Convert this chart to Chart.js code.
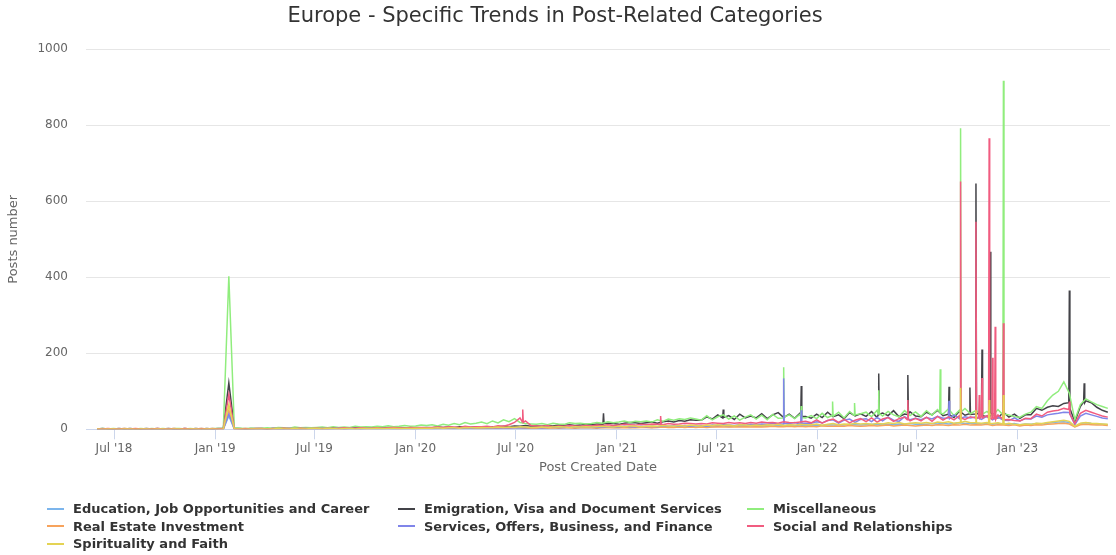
<!DOCTYPE html>
<html>
<head>
<meta charset="utf-8">
<script src="https://cdn.jsdelivr.net/npm/chart.js@4.4.1/dist/chart.umd.min.js"></script>
<style>
  body { margin: 0; background: #fff; }
  #wrap { position: relative; width: 1116px; height: 555px; }
  #legend {
    position: absolute; left: 47px; top: 500px;
    display: grid; grid-template-columns: 351px 349px 300px;
    font: bold 13px "DejaVu Sans", sans-serif; color: #333;
  }
  .item { display: flex; align-items: center; height: 17.5px; white-space: nowrap; }
  .sym { width: 17px; height: 2px; margin-right: 9px; }
</style>
</head>
<body>
<div id="wrap">
  <canvas id="chart" width="1116" height="555"></canvas>
  <div id="legend"></div>
</div>
<script>
// Séries (uma amostra a cada 10 dias + picos diários)
const seriesNames = [
  'Education, Job Opportunities and Career',
  'Emigration, Visa and Document Services',
  'Miscellaneous',
  'Real Estate Investment',
  'Services, Offers, Business, and Finance',
  'Social and Relationships',
  'Spirituality and Faith'
];
const seriesColors = ['#7cb5ec', '#434348', '#90ed7d', '#f7a35c', '#8085e9', '#f15c80', '#e4d354'];

const gridStartDate = '2018-05-31';
const gridStepDays = 10;

const tickDates = ['2018-07-01', '2019-01-01', '2019-07-01', '2020-01-01', '2020-07-01',
  '2021-01-01', '2021-07-01', '2022-01-01', '2022-07-01', '2023-01-01'];
const tickLabels = ["Jul '18", "Jan '19", "Jul '19", "Jan '20", "Jul '20",
  "Jan '21", "Jul '21", "Jan '22", "Jul '22", "Jan '23"];

const educationValues = [
  1,1,0,1,1,0,1,1,0,1, 1,0,1,1,0,1,1,0,1,1, 0,1,1,1,35,1,1,1,0,1, 1,1,2,1,1,1,2,1,1,2,
  1,2,1,1,2,2,1,2,1,2, 2,1,2,2,1,2,2,3,2,2, 2,3,2,3,3,2,3,3,4,3, 3,4,3,4,3,4,5,4,3,4,
  4,3,4,5,4,4,5,4,5,4, 5,4,5,6,5,5,6,5,6,6, 6,5,7,6,7,6,7,8,7,6, 7,8,7,8,9,7,8,9,8,9,
  9,8,10,9,10,9,11,10,9,11, 10,11,10,12,11,12,11,13,12,11, 12,13,12,14,13,12,14,13,15,13,
  14,13,15,14,16,14,15,17,15,16, 15,14,16,13,15,14,13,15,12,14, 13,15,14,16,18,19,20,18,7,15,
  17,15,14,13,12
];
const emigrationValues = [
  1,2,1,1,2,1,2,1,1,2, 1,2,1,2,1,1,2,1,2,1, 2,1,2,3,122,3,2,1,2,2, 2,1,2,3,2,2,3,2,2,3,
  3,2,3,4,3,2,3,4,3,3, 4,3,4,5,4,5,4,3,5,4, 5,4,6,5,6,4,7,6,5,6, 6,5,7,6,8,7,9,8,10,8,
  9,8,10,9,11,10,12,10,11,13, 12,14,13,16,15,13,16,18,17,15, 17,19,16,20,22,19,23,21,25,24,
  24,33,27,38,29,36,26,40,30,35, 30,41,28,38,44,31,40,29,43,34, 29,40,31,45,33,38,28,44,35,41,
  34,47,31,43,36,49,33,40,46,35, 33,45,38,50,36,44,31,48,37,42, 40,46,33,42,30,45,32,40,29,38,
  38,55,50,58,62,60,68,70,20,60, 75,70,58,50,45
];
const miscValues = [
  1,2,1,2,1,2,1,1,2,1, 2,1,2,1,2,2,1,2,1,2, 1,2,2,3,403,4,3,2,3,2, 3,4,3,5,4,3,6,4,5,4,
  5,6,4,7,5,6,5,8,6,7, 6,8,7,9,7,8,10,8,9,11, 10,12,9,13,11,15,12,18,14,16, 19,15,22,17,25,20,28,18,15,14,
  13,15,12,16,14,13,17,15,16,14, 15,18,16,20,17,19,22,18,21,20, 22,19,25,21,27,24,28,26,30,27,
  24,36,25,33,38,27,35,24,32,38, 27,37,25,39,29,26,38,28,40,30, 36,28,42,31,38,45,30,47,34,41,
  45,33,50,35,47,38,33,49,36,46, 34,49,37,52,40,54,36,50,55,41, 50,38,47,35,52,40,38,33,32,40,
  45,60,55,75,90,100,125,95,25,65, 80,72,65,60,55
];
const realEstateValues = [
  1,0,1,0,1,1,0,1,0,1, 1,0,0,1,1,0,1,0,1,1, 0,1,1,0,50,1,0,1,1,0, 1,1,0,1,2,1,1,2,1,1,
  2,1,1,2,1,1,2,1,2,1, 1,2,1,2,2,1,2,2,1,2, 2,2,3,2,2,3,2,3,3,2, 3,2,3,3,4,3,5,4,3,3,
  3,4,3,4,3,4,4,3,4,4, 4,3,5,4,4,5,4,5,4,5, 5,4,5,6,5,5,6,5,6,5, 6,5,6,7,6,6,7,6,7,6,
  7,6,7,8,7,7,8,7,8,7, 8,7,9,8,8,9,8,10,9,8, 9,10,9,10,11,9,10,11,10,9,
  10,11,10,12,11,10,12,11,13,11, 12,11,13,10,12,11,10,12,9,11, 10,12,11,13,14,15,16,14,6,12,
  13,12,11,11,10
];
const servicesValues = [
  0,1,1,0,1,1,0,1,1,0, 1,0,1,1,0,1,1,0,1,1, 1,0,1,1,40,1,1,0,1,1, 1,1,2,1,1,2,1,1,2,1,
  1,2,1,2,2,1,2,2,1,2, 2,2,3,2,2,3,2,3,2,3, 3,2,3,3,4,3,3,4,3,4, 4,3,4,5,4,5,4,5,4,5,
  5,4,5,6,5,5,6,5,6,6, 6,5,7,6,7,6,8,7,6,8, 7,8,7,9,8,9,8,10,9,10, 10,9,11,10,12,11,10,12,11,13,
  12,14,13,15,14,16,15,18,14,16, 16,20,17,23,25,16,24,27,18,26, 28,20,31,22,32,24,21,33,25,29,
  25,31,27,34,29,33,38,28,33,30, 33,26,35,25,32,24,23,30,22,28, 27,35,32,38,40,42,45,44,12,35,
  42,38,34,30,28
];
const socialValues = [
  1,1,2,1,1,2,1,2,1,1, 1,2,1,1,2,1,2,1,1,2, 1,2,1,2,92,2,1,2,1,2, 2,1,2,2,3,2,2,3,2,2,
  3,2,3,2,3,4,3,3,4,3, 3,4,3,4,5,4,3,5,4,5, 4,5,6,5,7,6,5,8,6,7, 7,8,6,9,8,12,18,30,22,10,
  9,8,10,7,9,8,10,9,8,10, 9,11,10,12,10,11,13,12,11,13, 12,14,13,12,15,13,14,16,15,14,
  15,14,17,16,15,18,16,17,15,18, 16,19,17,18,16,20,18,17,19,21, 17,25,16,23,27,18,26,17,24,28,
  20,30,19,27,31,21,28,32,22,29, 22,32,21,34,24,33,25,36,26,33, 34,25,36,27,38,28,26,23,22,29,
  28,40,35,45,48,50,55,52,15,42, 50,45,40,35,32
];
const spiritualityValues = [
  1,0,1,1,0,1,1,0,1,1, 0,1,1,0,1,1,0,1,1,0, 1,1,0,1,65,1,1,0,1,1, 1,1,1,2,1,1,2,1,1,2,
  2,1,2,2,1,2,2,1,2,2, 2,3,2,2,3,2,3,2,3,3, 3,3,4,3,4,4,3,5,4,4, 5,4,5,6,5,6,5,7,6,5,
  5,6,5,6,7,6,5,7,6,7, 6,7,8,7,6,8,7,9,8,7, 8,9,8,10,9,8,10,9,11,10, 9,11,10,12,10,11,9,12,11,10,
  11,10,12,11,13,10,12,11,13,12, 12,14,11,13,15,12,14,13,16,14, 15,13,16,14,17,15,18,14,16,17,
  16,18,15,19,17,20,16,18,21,17, 19,16,18,15,17,14,16,13,12,14, 13,16,15,18,20,22,24,21,8,16,
  18,16,15,14,13
];

// picos diários [data, valor]
const educationSpikes = [];
const emigrationSpikes = [
  ['2020-12-07', 14], ['2020-12-08', 42], ['2020-12-09', 15],
  ['2021-07-13', 30], ['2021-07-14', 52], ['2021-07-15', 31],
  ['2021-12-02', 35], ['2021-12-03', 114], ['2021-12-04', 34],
  ['2022-04-22', 38], ['2022-04-23', 147], ['2022-04-24', 40],
  ['2022-06-14', 39], ['2022-06-15', 143], ['2022-06-16', 41],
  ['2022-08-28', 40], ['2022-08-29', 112], ['2022-08-30', 38],
  ['2022-10-05', 41], ['2022-10-06', 110], ['2022-10-07', 39],
  ['2022-10-16', 40], ['2022-10-17', 647], ['2022-10-18', 42],
  ['2022-10-27', 38], ['2022-10-28', 210], ['2022-10-29', 36],
  ['2022-11-11', 39], ['2022-11-12', 467], ['2022-11-13', 37],
  ['2023-04-04', 70], ['2023-04-05', 365], ['2023-04-06', 55],
  ['2023-05-01', 72], ['2023-05-02', 121], ['2023-05-03', 70]
];
const miscSpikes = [
  ['2021-10-31', 30], ['2021-11-01', 163], ['2021-11-02', 32],
  ['2021-12-02', 33], ['2021-12-03', 61], ['2021-12-04', 31],
  ['2022-01-28', 36], ['2022-01-29', 73], ['2022-01-30', 34],
  ['2022-03-09', 37], ['2022-03-10', 69], ['2022-03-11', 38],
  ['2022-04-22', 40], ['2022-04-23', 103], ['2022-04-24', 42],
  ['2022-08-12', 45], ['2022-08-13', 158], ['2022-08-14', 43],
  ['2022-09-18', 44], ['2022-09-19', 792], ['2022-09-20', 46],
  ['2022-12-05', 38], ['2022-12-06', 917], ['2022-12-07', 40]
];
const realEstateSpikes = [];
const servicesSpikes = [
  ['2021-10-31', 14], ['2021-11-01', 134], ['2021-11-02', 15],
  ['2021-12-02', 15], ['2021-12-03', 50], ['2021-12-04', 16],
  ['2022-08-28', 30], ['2022-08-29', 75], ['2022-08-30', 28]
];
const socialSpikes = [
  ['2020-07-13', 20], ['2020-07-14', 52], ['2020-07-15', 18],
  ['2021-03-21', 13], ['2021-03-22', 35], ['2021-03-23', 14],
  ['2022-06-14', 25], ['2022-06-15', 77], ['2022-06-16', 26],
  ['2022-09-18', 28], ['2022-09-19', 652], ['2022-09-20', 30],
  ['2022-10-16', 30], ['2022-10-17', 546], ['2022-10-18', 28],
  ['2022-10-22', 31], ['2022-10-23', 90], ['2022-10-24', 29],
  ['2022-10-27', 33], ['2022-10-28', 135], ['2022-10-29', 30],
  ['2022-11-09', 29], ['2022-11-10', 766], ['2022-11-11', 31],
  ['2022-11-15', 27], ['2022-11-16', 188], ['2022-11-17', 30],
  ['2022-11-20', 28], ['2022-11-21', 270], ['2022-11-22', 26],
  ['2022-12-05', 27], ['2022-12-06', 279], ['2022-12-07', 25],
  ['2023-04-04', 52], ['2023-04-05', 73], ['2023-04-06', 40]
];
const spiritualitySpikes = [
  ['2022-09-18', 17], ['2022-09-19', 109], ['2022-09-20', 18],
  ['2022-10-16', 18], ['2022-10-17', 50], ['2022-10-18', 17],
  ['2022-11-09', 16], ['2022-11-10', 77], ['2022-11-11', 15],
  ['2022-12-05', 14], ['2022-12-06', 90], ['2022-12-07', 13]
];

const seriesValues = [educationValues, emigrationValues, miscValues, realEstateValues,
  servicesValues, socialValues, spiritualityValues];
const seriesSpikes = [educationSpikes, emigrationSpikes, miscSpikes, realEstateSpikes,
  servicesSpikes, socialSpikes, spiritualitySpikes];

function dayNum(s) {
  const [y, m, d] = s.split('-').map(Number);
  return Date.UTC(y, m - 1, d) / 86400000;
}

function buildPoints(values, spikes) {
  const start = dayNum(gridStartDate);
  const byDay = new Map();
  values.forEach((v, i) => byDay.set(start + gridStepDays * i, v));
  spikes.forEach(([d, v]) => byDay.set(dayNum(d), v));
  return [...byDay.entries()].sort((a, b) => a[0] - b[0]).map(([x, y]) => ({ x, y }));
}

const n = seriesNames.length;
const datasets = seriesNames.map((name, i) => ({
  label: name,
  data: buildPoints(seriesValues[i], seriesSpikes[i]),
  borderColor: seriesColors[i],
  backgroundColor: seriesColors[i],
  borderWidth: 1.5,
  pointRadius: 0,
  tension: 0,
  fill: false,
  order: n - 1 - i
}));

const font = 'DejaVu Sans';

new Chart(document.getElementById('chart').getContext('2d'), {
  type: 'line',
  data: { datasets },
  options: {
    responsive: false,
    animation: false,
    devicePixelRatio: 1,
    layout: { padding: { left: 0, right: 6, top: 0, bottom: 77.7 } },
    plugins: {
      legend: { display: false },
      tooltip: { enabled: false },
      title: {
        display: true,
        text: 'Europe - Specific Trends in Post-Related Categories',
        color: '#333',
        font: { family: font, size: 21, weight: 'normal' },
        padding: { top: 3.5, bottom: 20.6 }
      }
    },
    scales: {
      x: {
        type: 'linear',
        min: dayNum('2018-05-11'),
        max: dayNum('2023-06-18'),
        afterBuildTicks: (scale) => { scale.ticks = tickDates.map(d => ({ value: dayNum(d) })); },
        afterFit: (scale) => { scale.height = 48; },
        grid: { drawOnChartArea: false, drawTicks: true, tickLength: 10, color: '#ccd6eb' },
        border: { display: true, color: '#ccd6eb' },
        ticks: {
          color: '#666', font: { family: font, size: 12 }, padding: 2,
          maxRotation: 0, autoSkip: false,
          callback: (value, index) => tickLabels[index]
        },
        title: {
          display: true, text: 'Post Created Date', color: '#666',
          font: { family: font, size: 13 }, padding: { top: 0, bottom: 2 }
        }
      },
      y: {
        min: 0,
        max: 1000,
        afterFit: (scale) => { scale.width = 86; },
        grid: { color: '#e6e6e6', drawTicks: false },
        border: { display: false },
        ticks: {
          stepSize: 200, color: '#666', font: { family: font, size: 12 }, padding: 18,
          callback: (value) => String(value)
        },
        title: {
          display: true, text: 'Posts number', color: '#666',
          font: { family: font, size: 13 }, padding: { top: 6, bottom: 0 }
        }
      }
    }
  }
});

// legenda em três colunas, como no original
const legend = document.getElementById('legend');
seriesNames.forEach((name, i) => {
  const item = document.createElement('div');
  item.className = 'item';
  const sym = document.createElement('span');
  sym.className = 'sym';
  sym.style.background = seriesColors[i];
  const txt = document.createElement('span');
  txt.textContent = name;
  item.appendChild(sym);
  item.appendChild(txt);
  legend.appendChild(item);
});
</script>
</body>
</html>
